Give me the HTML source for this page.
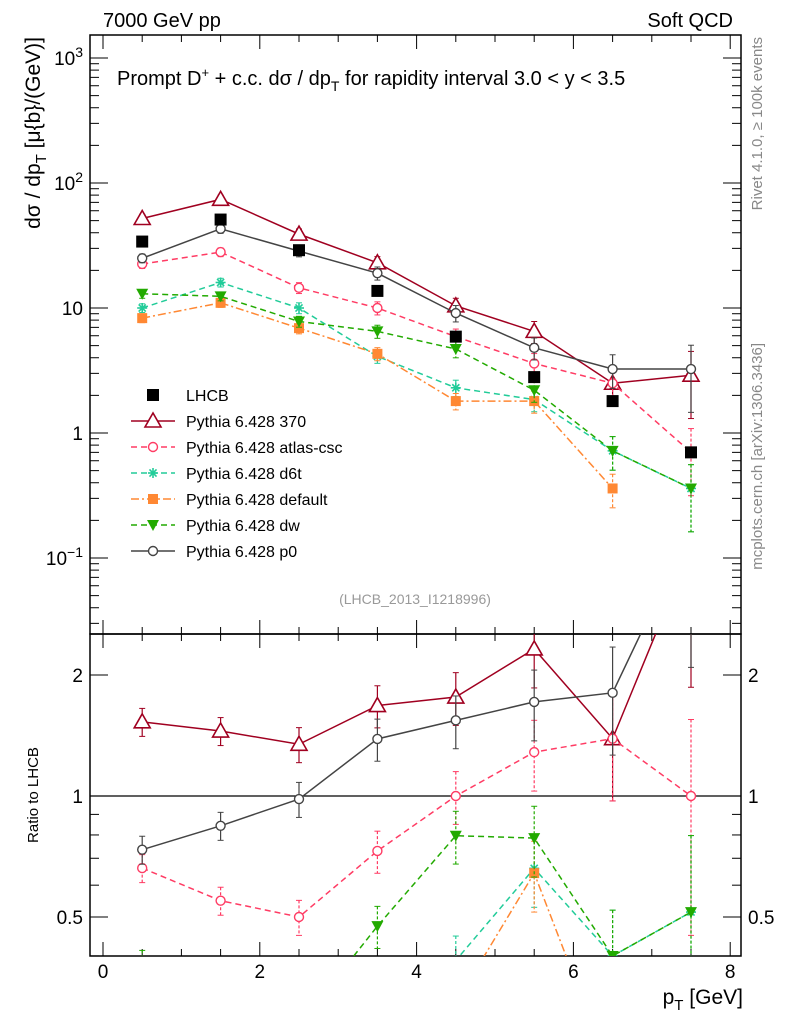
<!DOCTYPE html>
<html><head><meta charset="utf-8"><style>
html,body{margin:0;padding:0;background:#fff;overflow:hidden;width:786px;height:1024px}
svg{display:block;font-family:"Liberation Sans",sans-serif}
</style></head><body>
<svg id="c" width="786" height="1024" viewBox="0 0 786 1024" xmlns="http://www.w3.org/2000/svg"></svg>
<script>
const xCenters=[0.5,1.5,2.5,3.5,4.5,5.5,6.5,7.5];
const lhcb=[34,51,29,13.7,5.9,2.8,1.8,0.7];
const s370=[52,74,39,23,10.4,6.5,2.5,2.9];
const sAtlas=[22.5,28,14.5,10,5.9,3.6,2.5,0.7];
const sD6t=[10,16,10,4.1,2.3,1.85,0.72,0.36];
const sDefault=[8.3,11,6.9,4.3,1.8,1.8,0.36,null];
const sDw=[13,12.4,7.8,6.5,4.7,2.2,0.72,0.36];
const sP0=[25,43,28.5,19,9.1,4.8,3.25,3.25];
const relErr=[0.08,0.08,0.1,0.12,0.15,0.2,0.3,0.55];
const xTicks=[0,2,4,6,8];
const yTicks=[[1000,"10^3"],[100,"10^2"],[10,"10"],[1,"1"],[0.1,"10^-1"]];
const rTicks=[[2,"2"],[1,"1"],[0.5,"0.5"]];

const svg=document.getElementById('c');
const NS="http://www.w3.org/2000/svg";
function mk(t,a,p){const e=document.createElementNS(NS,t);for(const k in a)e.setAttribute(k,a[k]);(p||svg).appendChild(e);return e;}
const L=90,R=741,T=35,MB=634,RB=956;
const X=v=>103+v*78.4;
const Y=v=>433-125*Math.log10(v);
const YR=v=>796-121*Math.log2(v);

const defs=mk('defs',{});
const c1=mk('clipPath',{id:'cm'},defs);mk('rect',{x:L,y:T,width:R-L,height:MB-T},c1);
const c2=mk('clipPath',{id:'cr'},defs);mk('rect',{x:L,y:MB,width:R-L,height:RB-MB},c2);

let f=mk('rect',{x:L,y:T,width:R-L,height:MB-T,fill:'none',stroke:'#000','stroke-width':1.5});

f=mk('rect',{x:L,y:MB,width:R-L,height:RB-MB,fill:'none',stroke:'#000','stroke-width':1.5});


for(let v=0;v<=8.01;v+=0.5){
  const major=Math.abs(v-Math.round(v/2)*2)<1e-6;const len=major?14:7;
  for(const [y0,dir] of [[MB,-1],[RB,-1],[T,1],[MB,1]]){
    mk('line',{x1:X(v),x2:X(v),y1:y0,y2:y0+dir*len,stroke:'#000','stroke-width':1});
  }
}
xTicks.forEach(v=>{const t=mk('text',{x:X(v),y:978,'font-size':19,'text-anchor':'middle'});t.textContent=v;
});

for(let e=-2;e<=3;e++){for(let m=1;m<10;m++){const v=m*Math.pow(10,e);const y=Y(v);if(y<T||y>MB)continue;
 const len=m==1?18:9;
 mk('line',{x1:L,x2:L+len,y1:y,y2:y,stroke:'#000'});mk('line',{x1:R,x2:R-len,y1:y,y2:y,stroke:'#000'});}}
yTicks.forEach(([v,lab])=>{const t=mk('text',{x:83,y:Y(v)+7,'font-size':19,'text-anchor':'end'});
 const p=lab.split('^');t.textContent=p[0];if(p[1]){const s=mk('tspan',{dy:-8,'font-size':14},t);s.textContent=p[1].replace('-','\u2212');}
 });

[0.4,0.5,0.6,0.7,0.8,0.9,1,2].forEach(v=>{const y=YR(v);const len=(v==1||v==2||v==0.5)?18:9;
 mk('line',{x1:L,x2:L+len,y1:y,y2:y,stroke:'#000'});mk('line',{x1:R,x2:R-len,y1:y,y2:y,stroke:'#000'});});
rTicks.forEach(([v,lab])=>{for(const [x,a] of [[83,'end'],[748,'start']]){const t=mk('text',{x:x,y:YR(v)+7,'font-size':19,'text-anchor':a});t.textContent=lab;
 }});
mk('line',{x1:L,x2:R,y1:YR(1),y2:YR(1),stroke:'#000','stroke-width':1.2});

function txt(x,y,s,size,attrs,name){const t=mk('text',Object.assign({x:x,y:y,'font-size':size},attrs||{}));t.innerHTML=s;return t;}
txt(103,27,'7000 GeV pp',20,{},'energy-label');
txt(733,27,'Soft QCD',20,{'text-anchor':'end'},'process-label');
txt(117,85,'Prompt D<tspan dy="-8" font-size="13">+</tspan><tspan dy="8"> + c.c.  d\u03c3 / dp</tspan><tspan dy="6" font-size="14">T</tspan><tspan dy="-6"> for rapidity interval 3.0 &lt; y &lt; 3.5</tspan>',20,{},'plot-title');
txt(743,1004,'p<tspan dy="6" font-size="15">T</tspan><tspan dy="-6"> [GeV]</tspan>',21,{'text-anchor':'end'},'x-axis-title');
txt(0,0,'d\u03c3 / dp<tspan dy="6" font-size="15">T</tspan><tspan dy="-6"> [\u03bc{b}/(GeV)]</tspan>',21,{'text-anchor':'end',transform:'translate(40,37) rotate(-90)'},'y-axis-title');
txt(0,0,'Ratio to LHCB',15,{'text-anchor':'middle',transform:'translate(38,795) rotate(-90)'},'ratio-axis-title');
txt(0,0,'Rivet 4.1.0, \u2265 100k events',15,{'text-anchor':'end',fill:'#888',transform:'translate(762,37) rotate(-90)'},'rivet-label');
txt(0,0,'mcplots.cern.ch [arXiv:1306.3436]',15,{'text-anchor':'end',fill:'#888',transform:'translate(762,343) rotate(-90)'},'mcplots-label');
txt(415,604,'(LHCB_2013_I1218996)',14,{'text-anchor':'middle',fill:'#999'},'analysis-id');

function marker(kind,x,y,col,g){
 if(kind=='sq')mk('rect',{x:x-6,y:y-6,width:12,height:12,fill:'#000'},g);
 else if(kind=='tri')mk('polygon',{points:`${x},${y-8} ${x-8},${y+6} ${x+8},${y+6}`,fill:'#fff',stroke:col,'stroke-width':1.6},g);
 else if(kind=='circ')mk('circle',{cx:x,cy:y,r:4.5,fill:'#fff',stroke:col,'stroke-width':1.4},g);
 else if(kind=='star'){for(let a=0;a<4;a++){const an=a*Math.PI/4;mk('line',{x1:x-5*Math.cos(an),y1:y-5*Math.sin(an),x2:x+5*Math.cos(an),y2:y+5*Math.sin(an),stroke:col,'stroke-width':1.6},g);}}
 else if(kind=='fsq')mk('rect',{x:x-5,y:y-5,width:10,height:10,fill:col},g);
 else if(kind=='dtri')mk('polygon',{points:`${x-6},${y-5} ${x+6},${y-5} ${x},${y+6}`,fill:col},g);
}
const series=[
 {name:'Pythia 6.428 370',d:s370,col:'#a00020',dash:'',m:'tri',id:'series-370'},
 {name:'Pythia 6.428 atlas-csc',d:sAtlas,col:'#ff3c64',dash:'6,4',m:'circ',id:'series-atlas-csc'},
 {name:'Pythia 6.428 d6t',d:sD6t,col:'#22cc99',dash:'6,4',m:'star',id:'series-d6t'},
 {name:'Pythia 6.428 default',d:sDefault,col:'#ff8833',dash:'8,3,2,3',m:'fsq',id:'series-default'},
 {name:'Pythia 6.428 dw',d:sDw,col:'#22aa00',dash:'6,4',m:'dtri',id:'series-dw'},
 {name:'Pythia 6.428 p0',d:sP0,col:'#444444',dash:'',m:'circ',id:'series-p0'}
];
function drawSeries(s,yf,clip,vals,suffix){
 const g=mk('g',{'clip-path':`url(#${clip})`});
 
 let pts=[];
 vals.forEach((v,i)=>{if(v==null||v<=0)return;pts.push(X(xCenters[i])+','+yf(v));});
 mk('polyline',{points:pts.join(' '),fill:'none',stroke:s.col,'stroke-width':1.5,'stroke-dasharray':s.dash},g);
 vals.forEach((v,i)=>{if(v==null||v<=0)return;const x=X(xCenters[i]);const e=relErr[i];
  const y1=yf(v*(1+e)),y2=yf(Math.max(v*(1-e),1e-4));
  mk('line',{x1:x,x2:x,y1:y1,y2:y2,stroke:s.col,'stroke-width':1.2,'stroke-dasharray':s.dash?'3,2':''},g);
  mk('line',{x1:x-3,x2:x+3,y1:y1,y2:y1,stroke:s.col},g);mk('line',{x1:x-3,x2:x+3,y1:y2,y2:y2,stroke:s.col},g);
  marker(s.m,x,yf(v),s.col,g);});
}
series.forEach(s=>drawSeries(s,Y,'cm',s.d,''));
series.forEach(s=>drawSeries(s,YR,'cr',s.d.map((v,i)=>v==null?null:v/lhcb[i]),'-ratio'));
const gd=mk('g',{'clip-path':'url(#cm)'});
lhcb.forEach((v,i)=>marker('sq',X(xCenters[i]),Y(v),'#000',gd));

const lg=mk('g',{});
const entries=[{name:'LHCB',m:'sq',col:'#000',noline:true}].concat(series);
entries.forEach((s,i)=>{const y=395+i*26;const g=mk('g',{},lg);
 
 if(!s.noline)mk('line',{x1:131,x2:175,y1:y,y2:y,stroke:s.col,'stroke-width':1.5,'stroke-dasharray':s.dash},g);
 marker(s.m,153,y,s.col,g);
 const t=mk('text',{x:186,y:y+6,'font-size':16},g);t.textContent=s.name;});
</script>
</body></html>
